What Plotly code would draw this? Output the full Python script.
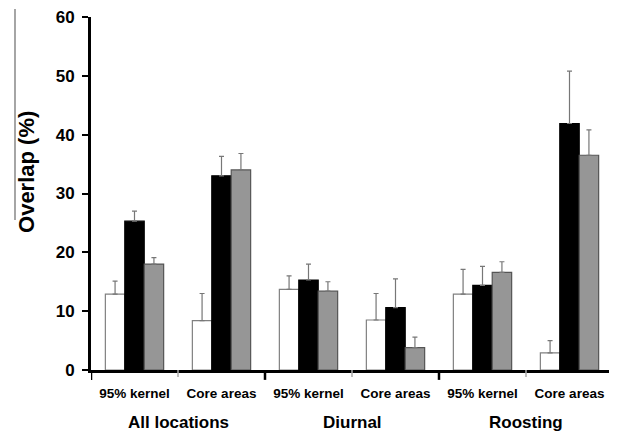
import plotly.graph_objects as go

categories = ["95% kernel", "Core areas", "95% kernel", "Core areas", "95% kernel", "Core areas"]
groups = ["All locations", "Diurnal", "Roosting"]

white_vals = [12.9, 8.4, 13.7, 8.5, 12.9, 2.9]
white_err = [2.2, 4.6, 2.3, 4.5, 4.2, 2.1]
black_vals = [25.3, 33.0, 15.3, 10.6, 14.4, 41.9]
black_err = [1.7, 3.3, 2.7, 4.9, 3.2, 8.9]
gray_vals = [18.0, 34.0, 13.4, 3.8, 16.6, 36.5]
gray_err = [1.1, 2.8, 1.6, 1.8, 1.8, 4.3]

yticks = [0, 10, 20, 30, 40, 50, 60]

x = list(range(len(categories)))

def bar(vals, errs, fill, line):
    return go.Bar(
        x=x, y=vals, marker=dict(color=fill, line=dict(color=line, width=1.2)),
        error_y=dict(type="data", array=errs, arrayminus=[0]*len(errs), symmetric=False,
                     color="#777777", thickness=1.2, width=2.5),
        showlegend=False,
    )

fig = go.Figure([
    bar(white_vals, white_err, "#ffffff", "#808080"),
    bar(black_vals, black_err, "#000000", "#000000"),
    bar(gray_vals, gray_err, "#969696", "#555555"),
])

font = "Liberation Sans, Arial, sans-serif"

fig.update_layout(
    width=609, height=426,
    margin=dict(l=83, r=4, t=9, b=64, autoexpand=False),
    plot_bgcolor="white", paper_bgcolor="white",
    barmode="group", bargap=0.33, bargroupgap=0,
    font=dict(family=font, color="black"),
    xaxis=dict(
        range=[-0.5, 5.5], tickvals=x, ticktext=[f"<b>{c}</b>" for c in categories],
        ticks="", showline=True, linecolor="black", linewidth=3,
        tickfont=dict(size=13.5), showgrid=False, zeroline=False,
        ticklabelstandoff=9, automargin=False, ticklabeloverflow="allow",
    ),
    yaxis=dict(
        range=[0, 60], tickvals=yticks, ticktext=[f"<b>{t}</b>" for t in yticks],
        ticks="outside", ticklen=6, tickwidth=1.5, tickcolor="black",
        showline=True, linecolor="black", linewidth=3,
        tickfont=dict(size=17), showgrid=False, zeroline=False,
        ticklabelstandoff=4, automargin=False, ticklabeloverflow="allow",
    ),
)

# y-axis title
fig.add_annotation(x=-0.1226, xref="paper", xanchor="center", y=0.561, yref="paper", yanchor="middle",
                   text="<b>Overlap (%)</b>", textangle=-90, showarrow=False,
                   font=dict(size=22, family=font))

# group labels
for i, g in enumerate(groups):
    fig.add_annotation(x=2*i + 0.5, y=0, xref="x", yref="paper", yanchor="middle", yshift=-52,
                       text=f"<b>{g}</b>", showarrow=False, font=dict(size=17, family=font))

# group boundary ticks (major) and category boundary ticks (minor)
for b in [-0.5, 1.5, 3.5, 5.5]:
    fig.add_shape(type="line", x0=b, x1=b, y0=0, y1=-0.028, xref="x", yref="paper",
                  line=dict(color="black", width=2.5))
for b in [0.5, 2.5, 4.5]:
    fig.add_shape(type="line", x0=b, x1=b, y0=0, y1=-0.02, xref="x", yref="paper",
                  line=dict(color="#aaaaaa", width=1.5))

# faint vertical line artifact at left
fig.add_shape(type="line", x0=-0.1456, x1=-0.1456, y0=1.023, y1=0.425, xref="paper", yref="paper",
              line=dict(color="#888888", width=1.5))

fig.write_html("out.html")
